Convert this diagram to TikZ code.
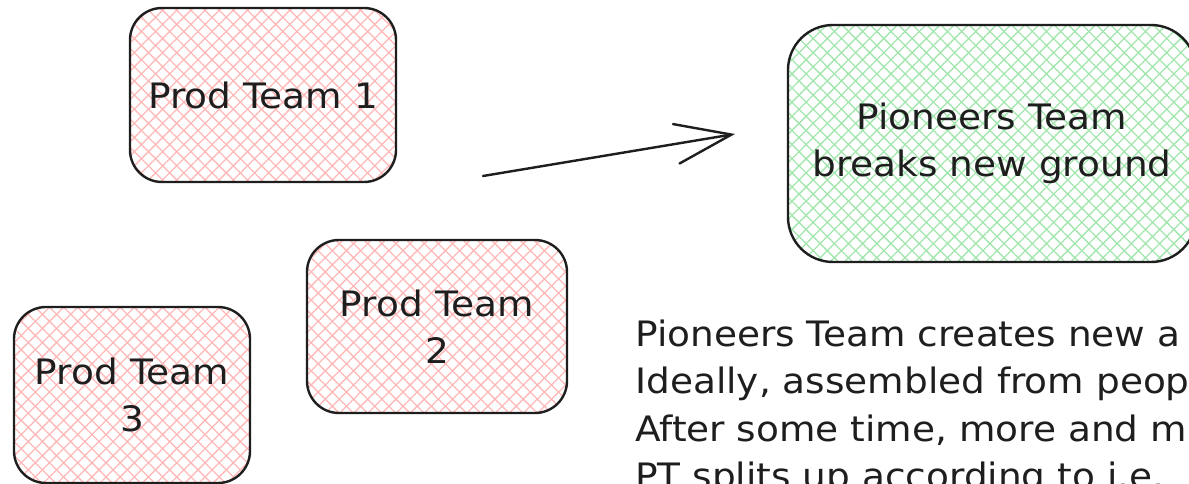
\documentclass[tikz,border=0pt]{standalone}
\usepackage{fontspec}
\setmainfont[FakeStretch=1.07]{DejaVu Sans}
\usetikzlibrary{patterns.meta,arrows.meta}
\definecolor{ink}{HTML}{1E1E1E}
\definecolor{hatchred}{HTML}{FFB8B8}
\definecolor{hatchgreen}{HTML}{A2E6AD}
\tikzset{
  handtext/.style={font=\fontsize{35}{47.5}\selectfont, text=ink},
  teambox/.style={handtext, draw=ink, line width=2.4pt, align=center,
    inner sep=0pt, rounded corners=#1},
  hatch/.style={
    preaction={pattern={Lines[angle=45,distance=10pt,line width=1.3pt]}, pattern color=#1},
    preaction={pattern={Lines[angle=-45,distance=10pt,line width=1.3pt]}, pattern color=#1}},
  prodbox/.style={teambox=32pt, hatch=hatchred},
  pionbox/.style={teambox=45pt, hatch=hatchgreen},
  sketcharrow/.style={draw=ink, line width=2.4pt, line cap=round,
    -{Straight Barb[length=56pt,width=40pt,line cap=round]}},
}
\begin{document}
\begin{tikzpicture}[x=1pt,y=-1pt]
\useasboundingbox (0,0) rectangle (1189,484);
\clip (0,0) rectangle (1189,484);
\node[prodbox, minimum width=266pt, minimum height=174pt] (pt1) at (263,95) {Prod Team 1};
\node[prodbox, minimum width=260pt, minimum height=173pt] (pt2) at (437,326.5) {Prod Team\\2};
\node[prodbox, minimum width=236pt, minimum height=176pt] (pt3) at (132,395) {Prod Team\\3};
\node[pionbox, minimum width=408pt, minimum height=237pt] (pion) at (992,143.5) {Pioneers Team\\breaks new ground};
\coordinate (a1) at (483,176);
\coordinate (a2) at (735,134);
\draw[sketcharrow] (a1) -- (a2);
\node[handtext, anchor=base west, align=left, inner sep=0pt] (desc) at (635,488.5)
  {Pioneers Team creates new a\\Ideally, assembled from people\\After some time, more and mo\\PT splits up according to i.e.};
\end{tikzpicture}
\end{document}
